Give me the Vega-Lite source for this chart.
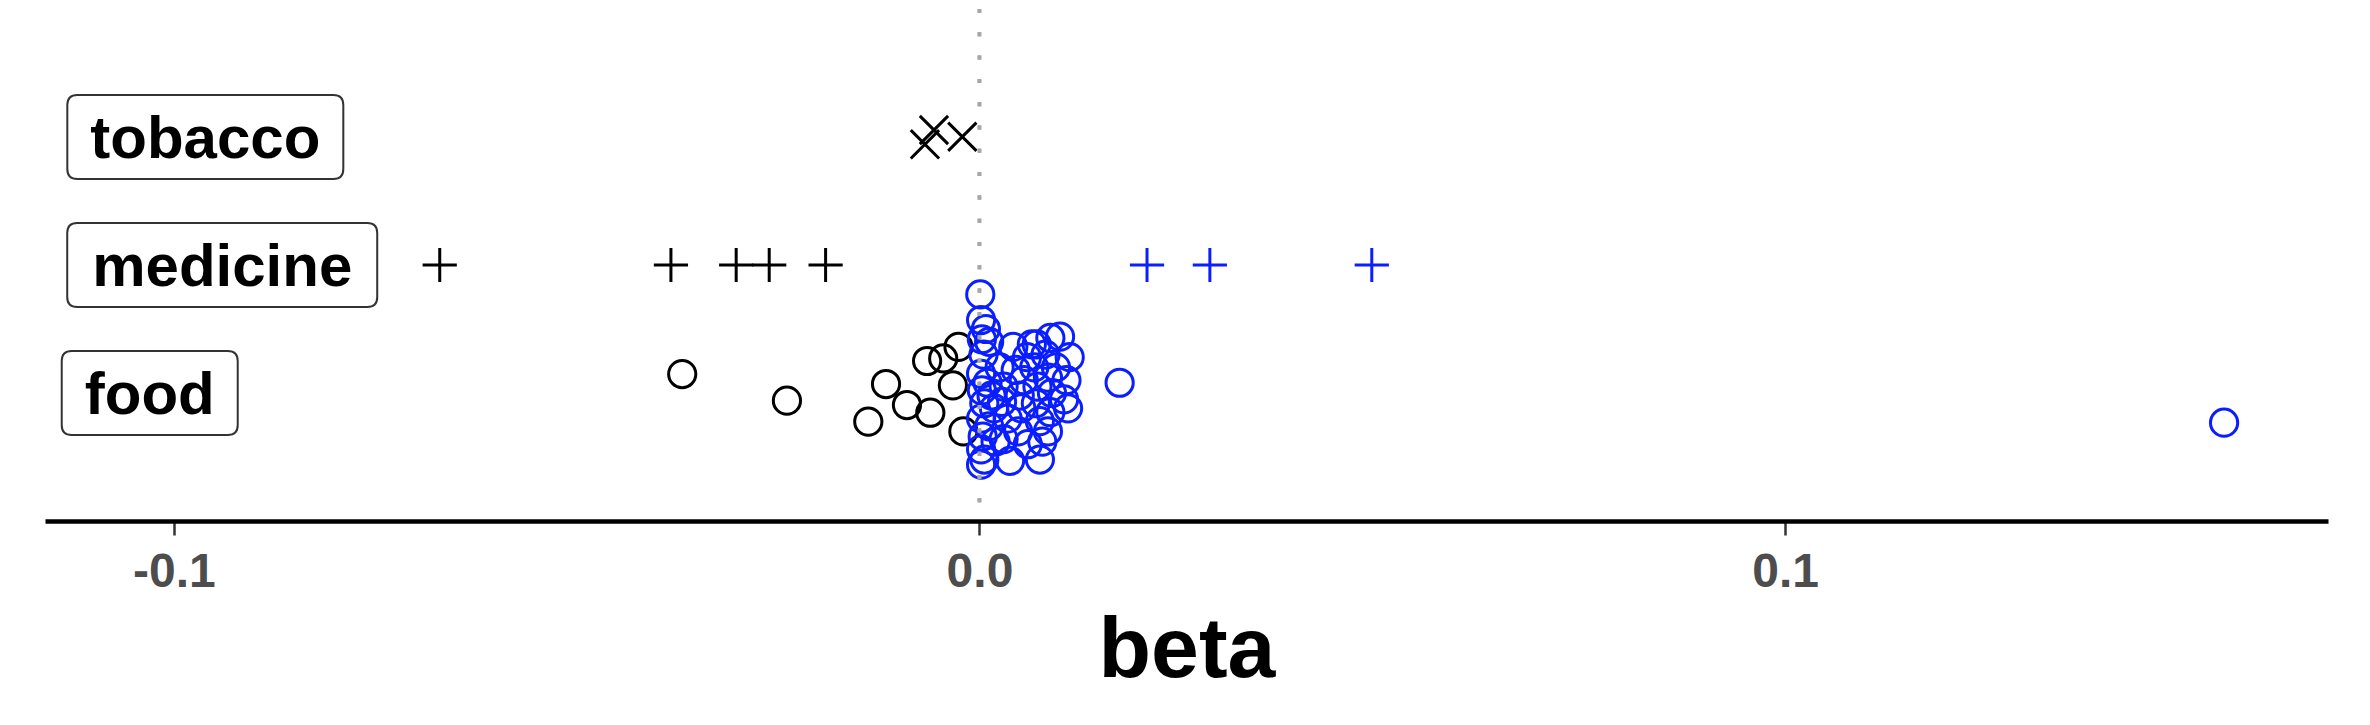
{
  "$schema": "https://vega.github.io/schema/vega-lite/v6.json",
  "autosize": {"type": "none"},
  "width": 2283,
  "height": 512,
  "padding": {"left": 45, "top": 9, "right": 42, "bottom": 204},
  "background": "white",
  "config": {"view": {"stroke": null}},
  "datasets": {
    "points": [
      {"cat": "tobacco", "beta": -0.00677, "pos": 2.943},
      {"cat": "tobacco", "beta": -0.00565, "pos": 3.055},
      {"cat": "tobacco", "beta": -0.00213, "pos": 3.002},
      {"cat": "medicine", "beta": -0.0670, "pos": 2.0},
      {"cat": "medicine", "beta": -0.0383, "pos": 2.0},
      {"cat": "medicine", "beta": -0.0302, "pos": 2.0},
      {"cat": "medicine", "beta": -0.0261, "pos": 2.0},
      {"cat": "medicine", "beta": -0.0191, "pos": 2.0},
      {"cat": "medicine", "beta": 0.0208, "pos": 2.0},
      {"cat": "medicine", "beta": 0.0286, "pos": 2.0},
      {"cat": "medicine", "beta": 0.0487, "pos": 2.0},
      {"cat": "food", "beta": -0.0369, "pos": 1.148},
      {"cat": "food", "beta": -0.0239, "pos": 0.940},
      {"cat": "food", "beta": -0.0138, "pos": 0.776},
      {"cat": "food", "beta": -0.0116, "pos": 1.070},
      {"cat": "food", "beta": -0.0090, "pos": 0.906},
      {"cat": "food", "beta": -0.0065, "pos": 1.250},
      {"cat": "food", "beta": -0.0061, "pos": 0.846},
      {"cat": "food", "beta": -0.0045, "pos": 1.270},
      {"cat": "food", "beta": -0.0026, "pos": 1.360},
      {"cat": "food", "beta": -0.0033, "pos": 1.060},
      {"cat": "food", "beta": -0.0020, "pos": 0.700},
      {"cat": "food", "beta": 0.1545, "pos": 0.768},
      {"cat": "food", "beta": 0.0174, "pos": 1.080},
      {"cat": "food", "beta": 0.0001, "pos": 1.770},
      {"cat": "food", "beta": 0.0002, "pos": 1.570},
      {"cat": "food", "beta": 0.0008, "pos": 1.500},
      {"cat": "food", "beta": 0.0003, "pos": 1.420},
      {"cat": "food", "beta": 0.0012, "pos": 1.400},
      {"cat": "food", "beta": 0.0005, "pos": 1.300},
      {"cat": "food", "beta": 0.0002, "pos": 1.150},
      {"cat": "food", "beta": 0.0010, "pos": 1.080},
      {"cat": "food", "beta": 0.0003, "pos": 1.020},
      {"cat": "food", "beta": 0.0015, "pos": 0.980},
      {"cat": "food", "beta": 0.0006, "pos": 0.920},
      {"cat": "food", "beta": 0.0018, "pos": 0.880},
      {"cat": "food", "beta": 0.0002, "pos": 0.800},
      {"cat": "food", "beta": 0.0012, "pos": 0.740},
      {"cat": "food", "beta": 0.0004, "pos": 0.660},
      {"cat": "food", "beta": 0.0020, "pos": 0.620},
      {"cat": "food", "beta": 0.0002, "pos": 0.560},
      {"cat": "food", "beta": 0.0006, "pos": 0.480},
      {"cat": "food", "beta": 0.0002, "pos": 0.440},
      {"cat": "food", "beta": 0.0025, "pos": 1.200},
      {"cat": "food", "beta": 0.0030, "pos": 1.050},
      {"cat": "food", "beta": 0.0028, "pos": 0.930},
      {"cat": "food", "beta": 0.0035, "pos": 0.800},
      {"cat": "food", "beta": 0.0030, "pos": 0.640},
      {"cat": "food", "beta": 0.0038, "pos": 0.470},
      {"cat": "food", "beta": 0.0042, "pos": 1.360},
      {"cat": "food", "beta": 0.0045, "pos": 1.180},
      {"cat": "food", "beta": 0.0050, "pos": 0.980},
      {"cat": "food", "beta": 0.0052, "pos": 0.880},
      {"cat": "food", "beta": 0.0048, "pos": 0.700},
      {"cat": "food", "beta": 0.0055, "pos": 1.100},
      {"cat": "food", "beta": 0.0059, "pos": 1.280},
      {"cat": "food", "beta": 0.0060, "pos": 0.600},
      {"cat": "food", "beta": 0.0065, "pos": 1.380},
      {"cat": "food", "beta": 0.0071, "pos": 1.380},
      {"cat": "food", "beta": 0.0068, "pos": 1.200},
      {"cat": "food", "beta": 0.0072, "pos": 1.050},
      {"cat": "food", "beta": 0.0070, "pos": 0.920},
      {"cat": "food", "beta": 0.0075, "pos": 0.780},
      {"cat": "food", "beta": 0.0075, "pos": 0.480},
      {"cat": "food", "beta": 0.0078, "pos": 0.620},
      {"cat": "food", "beta": 0.0082, "pos": 1.300},
      {"cat": "food", "beta": 0.0085, "pos": 1.120},
      {"cat": "food", "beta": 0.0088, "pos": 1.430},
      {"cat": "food", "beta": 0.0090, "pos": 1.000},
      {"cat": "food", "beta": 0.0088, "pos": 0.850},
      {"cat": "food", "beta": 0.0085, "pos": 0.700},
      {"cat": "food", "beta": 0.0095, "pos": 1.200},
      {"cat": "food", "beta": 0.0100, "pos": 1.440},
      {"cat": "food", "beta": 0.0105, "pos": 0.950},
      {"cat": "food", "beta": 0.0108, "pos": 1.100},
      {"cat": "food", "beta": 0.0112, "pos": 1.280},
      {"cat": "food", "beta": 0.0110, "pos": 0.880}
    ],
    "labels": [
      {"cat": "tobacco", "lx": -0.0961, "ly": 3.0},
      {"cat": "medicine", "lx": -0.0940, "ly": 2.0},
      {"cat": "food", "lx": -0.1030, "ly": 1.0}
    ]
  },
  "resolve": {"scale": {"shape": "independent", "size": "independent"}},
  "layer": [
    {
      "data": {"name": "points"},
      "mark": {"type": "point", "filled": false, "strokeWidth": 3, "opacity": 1},
      "encoding": {
        "x": {
          "field": "beta",
          "type": "quantitative",
          "scale": {"domain": [-0.116, 0.1674], "nice": false, "zero": false},
          "axis": {
            "title": "beta",
            "values": [-0.1, 0, 0.1],
            "labelExpr": "replace(format(datum.value, '.1f'), '\u2212', '-')",
            "grid": false,
            "domainColor": "black",
            "domainWidth": 4.5,
            "tickColor": "#333333",
            "tickWidth": 2.5,
            "tickSize": 14,
            "labelFont": "Liberation Sans",
            "labelFontWeight": "bold",
            "labelFontSize": 48,
            "labelColor": "#4D4D4D",
            "labelPadding": 13,
            "titleFont": "Liberation Sans",
            "titleFontWeight": "bold",
            "titleFontSize": 86,
            "titleColor": "black",
            "titlePadding": 12
          }
        },
        "y": {
          "field": "pos",
          "type": "quantitative",
          "scale": {"domain": [0, 4], "nice": false, "zero": false},
          "axis": null
        },
        "shape": {
          "field": "cat",
          "type": "nominal",
          "scale": {
            "domain": ["food", "medicine", "tobacco"],
            "range": ["circle", "M-1,0H1M0,-1V1", "M-0.707,-0.707L0.707,0.707M0.707,-0.707L-0.707,0.707"]
          },
          "legend": null
        },
        "size": {
          "field": "cat",
          "type": "nominal",
          "scale": {"domain": ["food", "medicine", "tobacco"], "range": [740, 1600, 1600]},
          "legend": null
        },
        "color": {"condition": {"test": "datum.beta > 0", "value": "#0A1EFF"}, "value": "black"}
      }
    },
    {
      "data": {"name": "labels"},
      "mark": {"type": "rule", "strokeDash": [4, 19.3], "color": "#A6A6A6", "strokeWidth": 3.5},
      "encoding": {"x": {"datum": 0, "type": "quantitative"}}
    },
    {
      "data": {"name": "labels"},
      "mark": {"type": "point", "filled": true, "fill": "white", "stroke": "#333333", "strokeWidth": 2, "opacity": 1, "size": 4},
      "encoding": {
        "x": {"field": "lx", "type": "quantitative"},
        "y": {"field": "ly", "type": "quantitative"},
        "shape": {
          "field": "cat",
          "type": "nominal",
          "scale": {
            "domain": ["food", "medicine", "tobacco"],
            "range": [
              "M-78,-42H78Q88,-42,88,-32V32Q88,42,78,42H-78Q-88,42,-88,32V-32Q-88,-42,-78,-42Z",
              "M-145,-42H145Q155,-42,155,-32V32Q155,42,145,42H-145Q-155,42,-155,32V-32Q-155,-42,-145,-42Z",
              "M-128,-42H128Q138,-42,138,-32V32Q138,42,128,42H-128Q-138,42,-138,32V-32Q-138,-42,-128,-42Z"
            ]
          },
          "legend": null
        }
      }
    },
    {
      "data": {"name": "labels"},
      "mark": {"type": "text", "font": "Liberation Sans", "fontWeight": "bold", "fontSize": 60, "color": "black", "align": "center", "baseline": "middle", "dy": 3},
      "encoding": {
        "x": {"field": "lx", "type": "quantitative"},
        "y": {"field": "ly", "type": "quantitative"},
        "text": {"field": "cat"}
      }
    }
  ]
}
